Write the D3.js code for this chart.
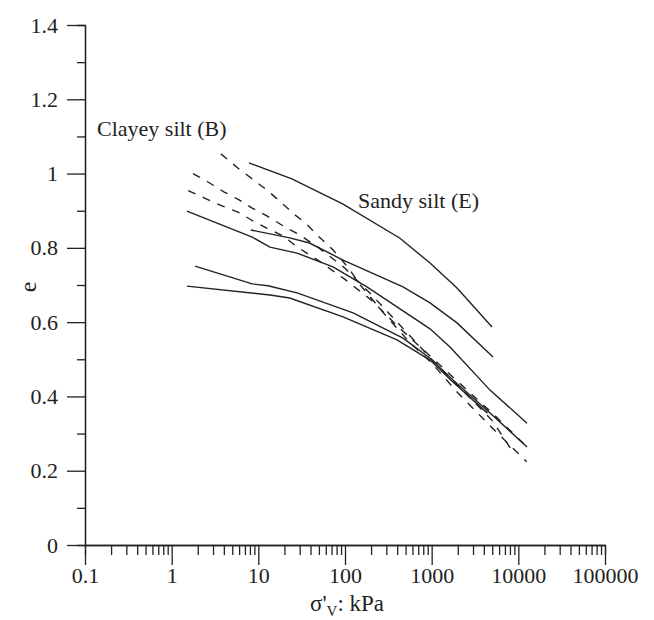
<!DOCTYPE html>
<html>
<head>
<meta charset="utf-8">
<script src="https://cdn.jsdelivr.net/npm/d3@7"></script>
<style>
  body { margin: 0; background: #fff; }
</style>
</head>
<body>
<div id="chart"></div>
<script>
// x ticks (log, kPa) and y ticks (void ratio)
const xMajor = [0.1, 1, 10, 100, 1000, 10000, 100000];
const yMajor = [0, 0.2, 0.4, 0.6, 0.8, 1, 1.2, 1.4];
const yMinor = [0.1, 0.3, 0.5, 0.7, 0.9, 1.1, 1.3];

// solid curves  [stress kPa, e]
const solid1 = [[7.8, 1.029], [24.4, 0.986], [95, 0.918], [431, 0.826], [957, 0.759], [1960, 0.692], [4970, 0.587]];
const solid2 = [[8.2, 0.848], [23, 0.827], [39, 0.813], [95, 0.767], [467, 0.695], [957, 0.652], [1960, 0.598], [5100, 0.506]];
const solid3 = [[1.5, 0.899], [8.5, 0.829], [13.6, 0.802], [27.9, 0.786], [72.6, 0.749], [179, 0.695], [957, 0.582], [1627, 0.533], [4710, 0.417], [12600, 0.328]];
const solid4 = [[1.86, 0.751], [8.5, 0.703], [12.9, 0.698], [28, 0.679], [124, 0.625], [467, 0.557], [957, 0.503], [1760, 0.444], [4350, 0.363], [12600, 0.264]];
const solid5 = [[1.5, 0.697], [13.6, 0.673], [23, 0.665], [95, 0.614], [398, 0.552], [957, 0.498], [1760, 0.439], [4400, 0.355]];

// dashed curves
const dash1 = [[3.7, 1.053], [5.8, 1.015], [12.5, 0.956], [18, 0.924], [26, 0.89], [35, 0.867], [50, 0.83], [73, 0.794], [108, 0.748], [150, 0.70], [290, 0.62], [560, 0.545], [1000, 0.49], [2000, 0.41], [5000, 0.315], [12500, 0.224]];
const dash2 = [[1.76, 1.0], [2.6, 0.978], [4, 0.951], [6, 0.929], [8.5, 0.907], [13, 0.884], [20, 0.857], [30, 0.835], [50, 0.80], [100, 0.745], [200, 0.675], [400, 0.6], [1000, 0.5], [2000, 0.43], [5000, 0.335], [8700, 0.25]];
const dash3 = [[1.55, 0.954], [2.4, 0.934], [3.8, 0.913], [6, 0.895], [8.3, 0.875], [12.5, 0.853], [20, 0.83], [27, 0.805], [50, 0.765], [100, 0.715], [200, 0.66], [400, 0.59], [1000, 0.505], [2000, 0.44], [5000, 0.355], [12500, 0.265]];

const solids = [solid1, solid2, solid3, solid4, solid5];
const dashes = [dash1, dash2, dash3];

const width = 654, height = 620;
const plotLeft = 85, plotRight = 605, plotTop = 25, plotBottom = 545;
const serif = '"Liberation Serif", "Times New Roman", Times, serif';

const svg = d3.select('#chart').append('svg')
    .attr('width', width)
    .attr('height', height);

const x = d3.scaleLog().domain([0.1, 100000]).range([plotLeft, plotRight]);
const y = d3.scaleLinear().domain([0, 1.4]).range([plotBottom, plotTop]);

// minor x ticks 2..9 in each decade
let xMinor = [];
xMajor.slice(0, -1).forEach(function (d) {
    for (let k = 2; k <= 9; k++) xMinor.push(d * k);
});

const fmtX = d => d < 1 ? String(d) : d3.format('d')(d);

// x axis
svg.append('g')
    .attr('transform', 'translate(0,' + plotBottom + ')')
    .call(d3.axisBottom(x).tickValues(xMinor).tickSize(10).tickFormat(''));

const gx = svg.append('g')
    .attr('transform', 'translate(0,' + plotBottom + ')')
    .call(d3.axisBottom(x).tickValues(xMajor).tickSize(20).tickSizeOuter(0).tickPadding(2).tickFormat(fmtX));

// y axis
svg.append('g')
    .attr('transform', 'translate(' + plotLeft + ',0)')
    .call(d3.axisLeft(y).tickValues(yMinor).tickSize(8).tickFormat(''));

const gy = svg.append('g')
    .attr('transform', 'translate(' + plotLeft + ',0)')
    .call(d3.axisLeft(y).tickValues(yMajor).tickSize(18).tickSizeOuter(0).tickPadding(9).tickFormat(d3.format('')));

svg.selectAll('.tick text')
    .style('font-family', serif)
    .style('font-size', '22px')
    .attr('fill', '#222');

svg.selectAll('.domain, .tick line')
    .attr('stroke', '#222')
    .attr('stroke-width', 1.3);

const line = d3.line()
    .x(d => x(d[0]))
    .y(d => y(d[1]));

svg.selectAll('path.solid')
    .data(solids)
    .enter()
    .append('path')
    .attr('class', 'solid')
    .attr('d', line)
    .attr('fill', 'none')
    .attr('stroke', '#222')
    .attr('stroke-width', 1.4);

svg.selectAll('path.dashed')
    .data(dashes)
    .enter()
    .append('path')
    .attr('class', 'dashed')
    .attr('d', line)
    .attr('fill', 'none')
    .attr('stroke', '#222')
    .attr('stroke-width', 1.4)
    .attr('stroke-dasharray', '8,8');

// labels
function label(tx, ty, size, str) {
    return svg.append('text')
        .attr('x', tx).attr('y', ty)
        .attr('fill', '#222')
        .style('font-family', serif)
        .style('font-size', size + 'px')
        .text(str);
}

label(97, 136, 22, 'Clayey silt (B)');
label(358, 208, 22, 'Sandy silt (E)');

svg.append('text')
    .attr('transform', 'translate(36,287) rotate(-90)')
    .attr('fill', '#222')
    .style('font-family', serif)
    .style('font-size', '24px')
    .style('text-anchor', 'middle')
    .text('e');

const xl = svg.append('text')
    .attr('x', 347).attr('y', 611)
    .attr('fill', '#222')
    .style('font-family', serif)
    .style('font-size', '23px')
    .style('text-anchor', 'middle');
xl.append('tspan').text("σ'");
xl.append('tspan').attr('dy', 5).style('font-size', '15px').text('V');
xl.append('tspan').attr('dy', -5).text(': kPa');
</script>
</body>
</html>
